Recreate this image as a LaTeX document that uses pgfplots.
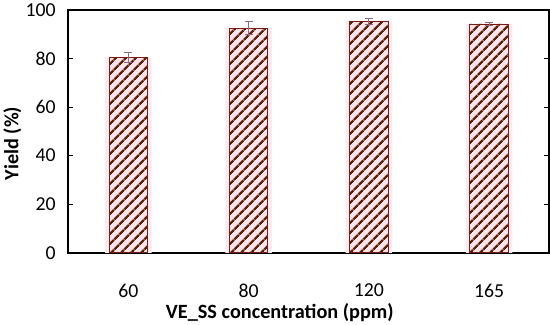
\documentclass[border=0pt]{standalone}
\usepackage{fontspec}
\setmainfont{Carlito}
\usepackage{pgfplots}
\pgfplotsset{compat=1.18}
\usetikzlibrary{patterns.meta}
\definecolor{stripe}{HTML}{5A2008}
\definecolor{barfill}{HTML}{FFE4EC}
\definecolor{halo}{HTML}{FFEAF2}
\definecolor{barline}{HTML}{7A1A10}
\definecolor{errc}{HTML}{8A6A86}
\begin{document}
\begin{tikzpicture}
\begin{axis}[
  scale only axis,
  width=475bp, height=240bp,
  xmin=-0.5, xmax=3.5,
  ymin=0, ymax=100,
  ytick={0,20,...,100},
  xtick=data,
  xticklabels={60,80,120,165},
  major x tick style={draw=none},
  tick align=inside,
  major tick length=5bp,
  axis line style={line width=1.6bp},
  every tick/.style={line width=1bp, black},
  /pgf/number format/assume math mode=true,
  ticklabel style={font=\fontsize{19.5bp}{22bp}\selectfont},
  xticklabel style={yshift=-22bp},
  yticklabel style={xshift=-9bp},
  xlabel={VE\_SS concentration (ppm)},
  ylabel={Yield (\%)},
  every axis x label/.style={at={(axis description cs:0.44,0)}, anchor=north, yshift=-46bp, font=\bfseries\fontsize{20bp}{23bp}\selectfont},
  every axis y label/.style={at={(axis description cs:-0.116,0.45)}, anchor=center, rotate=90, font=\bfseries\fontsize{20bp}{23bp}\selectfont},
  ybar, bar shift=0pt,
]
\addplot[fill=halo, draw=none, bar width=46bp] coordinates {(0,80.5) (1,92.5) (2,95.3) (3,94.2)};
\addplot[bar width=38bp, fill=barfill, draw=barline, line width=0.8bp,
  postaction={pattern={Lines[angle=45, distance=6.8bp, line width=2.3bp]}, pattern color=stripe},
  error bars/.cd, y dir=both, y explicit,
  error bar style={color=errc, line width=0.8bp},
  error mark options={rotate=90, mark size=4bp, line width=0.8bp, color=errc}]
  coordinates {(0,80.5) +- (0,2.0) (1,92.5) +- (0,2.7) (2,95.3) +- (0,1.3) (3,94.2) +- (0,0.8)};
\end{axis}
\end{tikzpicture}
\end{document}
